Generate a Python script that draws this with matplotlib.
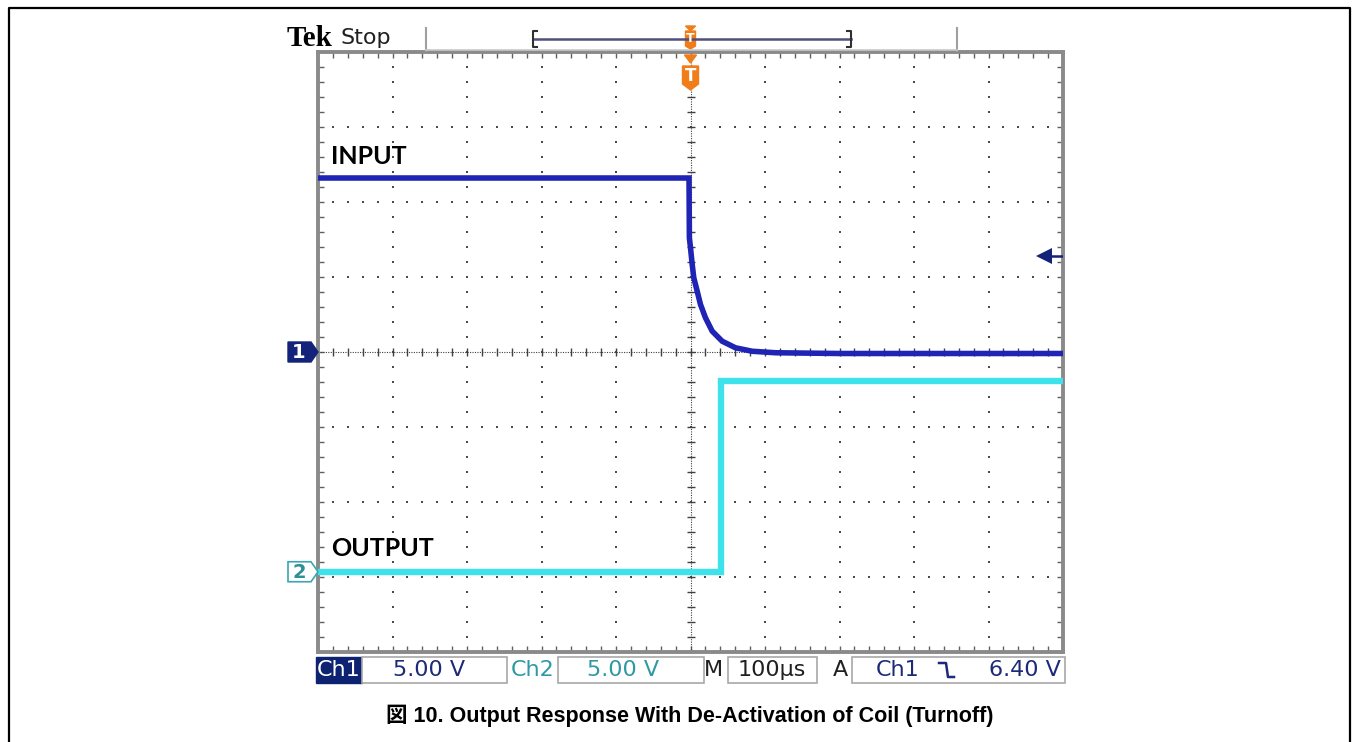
import matplotlib
matplotlib.use("Agg")
import matplotlib.pyplot as plt
import numpy as np
from matplotlib.patches import Rectangle, Polygon

# ---- 示波器读数 (从截图读取) ----
# time in µs (trigger at 0), voltage in V
ch1_time = [-500, -2.0, -1.5, 0.0, 2.3, 4.4, 9.0, 13.4, 20.1, 29.1, 42.5, 60.4, 82.8, 114, 200, 300, 400, 500]
ch1_volt = [11.6, 11.6, 7.6, 6.95, 5.83, 4.95, 4.05, 3.17, 2.28, 1.39, 0.72, 0.28, 0.05, -0.05, -0.1, -0.1, -0.1, -0.1]
ch2_time = [-500, 41.6, 41.6, 500]
ch2_volt = [0.0, 0.0, 12.7, 12.7]

ch1_label = "INPUT"
ch2_label = "OUTPUT"
ch1_scale = 5.00     # V/div
ch2_scale = 5.00     # V/div
ch1_offset = 0.0     # div
ch2_offset = -2.93   # div
time_scale = 100     # µs/div
trig_level = 6.40    # V, Ch1 falling edge
caption = "図 10. Output Response With De-Activation of Coil (Turnoff)"

W, H = 1353, 742
fig = plt.figure(figsize=(W / 100, H / 100), dpi=100)

# 屏幕区域 (像素)
L, R, T, B = 318, 1063, 52, 652
ax = fig.add_axes([L / W, 1 - B / H, (R - L) / W, (B - T) / H])
ax.set_xlim(-5 * time_scale, 5 * time_scale)
ax.set_ylim(-4, 4)
for sp in ax.spines.values():
    sp.set_color("#8a8a8a")
    sp.set_linewidth(2.8)

# graticule
fine_x = np.arange(-25, 26) * time_scale / 5
fine_y = np.arange(-20, 21) / 5

# border ticks every 1/5 div, pointing inward
ax.set_xticks(fine_x)
ax.set_yticks(fine_y)
ax.set_xticklabels([])
ax.set_yticklabels([])
ax.tick_params(direction="in", length=4, width=1, color="#606060", top=True, right=True)

dot = dict(ls="none", marker="s", ms=1.5, color="#4a4a4a", mew=0)
for k in range(-4, 5):
    if k == 0:
        continue
    ax.plot(np.full(len(fine_y), k * time_scale), fine_y, **dot)
for j in range(-3, 4):
    if j == 0:
        continue
    ax.plot(fine_x, np.full(len(fine_x), j), **dot)

# centre cross with ticks
ax.axvline(0, ls=(0, (1, 1.2)), lw=0.8, color="#404040")
ax.axhline(0, ls=(0, (1, 1.2)), lw=0.8, color="#404040")
ax.plot(np.zeros(len(fine_y)), fine_y, ls="none", marker="_", ms=6, mew=1, color="#404040")
ax.plot(fine_x, np.zeros(len(fine_x)), ls="none", marker="|", ms=6, mew=1, color="#404040")

# traces
ch1_div = np.array(ch1_volt) / ch1_scale + ch1_offset
ch2_div = np.array(ch2_volt) / ch2_scale + ch2_offset
ax.plot(ch2_time, ch2_div, color="#3ee2ea", lw=4.6, solid_joinstyle="miter", zorder=5)
ax.plot(ch1_time, ch1_div, color="#1f24b4", lw=4.0, solid_joinstyle="miter", zorder=6)

# trigger level arrow
trig_div = trig_level / ch1_scale + ch1_offset
ax.plot([474], [trig_div], marker="<", ms=12, color="#14237a", mew=0, zorder=7)
ax.plot([478, 500], [trig_div, trig_div], color="#14237a", lw=1.8, zorder=7)

# ---- 像素坐标叠加层 ----
ov = fig.add_axes([0, 0, 1, 1], zorder=3)
ov.set_xlim(0, W)
ov.set_ylim(H, 0)
ov.axis("off")
ov.patch.set_alpha(0)

# outer frame
ov.plot([8.5, 8.5, 1350, 1350], [745, 7.5, 7.5, 745], color="black", lw=1.6, clip_on=False)


def y_of(div):
    return T + (4 - div) * (B - T) / 8


# channel markers
cx = (L + R) / 2
y1 = y_of(ch1_offset)
ov.add_patch(Polygon([(288, y1 - 10), (311, y1 - 10), (318, y1), (311, y1 + 10), (288, y1 + 10)],
                     closed=True, fc="#14237a", ec="#14237a", lw=1))
ov.text(299, y1 + 0.5, "1", color="white", fontsize=14, fontweight="bold", ha="center", va="center",
        family="DejaVu Sans")
y2 = y_of(ch2_offset)
ov.add_patch(Polygon([(288, y2 - 10), (311, y2 - 10), (318, y2), (311, y2 + 10), (288, y2 + 10)],
                     closed=True, fc="white", ec="#3aa6ae", lw=1.2))
ov.text(299, y2 + 0.5, "2", color="#2e8f96", fontsize=14, fontweight="bold", ha="center", va="center",
        family="DejaVu Sans")

# labels
ov.text(331, 156, ch1_label, fontsize=18, fontweight="bold", family="Lato", ha="left", va="center")
ov.text(331, 549, ch2_label, fontsize=18, fontweight="bold", family="Lato", ha="left", va="center")

# header
ov.text(287, 39, "Tek", fontsize=21, fontweight="bold", family="Liberation Serif", ha="left", va="center")
ov.text(340, 38, "Stop", fontsize=16, family="DejaVu Sans", ha="left", va="center", color="#202020")
ov.plot([426, 426], [28, 51], color="#a0a0a0", lw=1.5)
ov.plot([957, 957], [28, 51], color="#a0a0a0", lw=1.5)
ov.plot([426, 957], [50, 50], color="#c8c8c8", lw=1.2)
ov.plot([533, 851], [39, 39], color="#50507a", lw=1.8)
ov.plot([537, 533, 533, 537], [31, 31, 47, 47], color="#303030", lw=1.5)
ov.plot([847, 851, 851, 847], [31, 31, 47, 47], color="#303030", lw=1.5)

# trigger position markers (orange)
orange = "#f07d1a"
ov.add_patch(Polygon([(cx - 5, 26), (cx + 5, 26), (cx, 31)], closed=True, fc=orange, ec=orange))
ov.add_patch(Polygon([(cx - 5, 31), (cx + 5, 31), (cx + 5, 46), (cx, 49), (cx - 5, 46)],
                     closed=True, fc=orange, ec=orange))
ov.text(cx, 39, "T", color="white", fontsize=9, fontweight="bold", ha="center", va="center")
ov.add_patch(Polygon([(cx - 6, 55), (cx + 6, 55), (cx, 63)], closed=True, fc=orange, ec=orange))
ov.add_patch(Polygon([(cx - 8, 66), (cx + 8, 66), (cx + 8, 84), (cx, 90), (cx - 8, 84)],
                     closed=True, fc=orange, ec=orange))
ov.text(cx, 76, "T", color="white", fontsize=12, fontweight="bold", ha="center", va="center")

# status bar
bt, bb = 657, 683
bym = (bt + bb) / 2
sfont = dict(fontsize=16, family="DejaVu Sans", va="center")
ov.add_patch(Rectangle((316, bt), 46, bb - bt, fc="#0d2270", ec="#0d2270"))
ov.text(339, bym, "Ch1", color="white", ha="center", **sfont)
for x0, x1 in [(362, 507), (558, 704), (728, 817), (852, 1065)]:
    ov.add_patch(Rectangle((x0, bt), x1 - x0, bb - bt, fc="white", ec="#a8a8a8", lw=1.2))
ov.text(429, bym, f"{ch1_scale:.2f} V", color="#1c2a78", ha="center", **sfont)
ov.text(533, bym, "Ch2", color="#2e9aa2", ha="center", **sfont)
ov.text(623, bym, f"{ch2_scale:.2f} V", color="#2e9aa2", ha="center", **sfont)
ov.text(713, bym, "M", color="#202020", ha="center", **sfont)
ov.text(772, bym, f"{time_scale}µs", color="#202020", ha="center", **sfont)
ov.text(840, bym, "A", color="#202020", ha="center", **sfont)
ov.text(898, bym, "Ch1", color="#1c2a78", ha="center", **sfont)
ov.plot([939, 946, 948, 954], [663, 663, 677, 677], color="#1c2a78", lw=1.8)
ov.text(1061, bym, f"{trig_level:.2f} V", color="#1c2a78", ha="right", **sfont)

# caption
ov.text(690, 716, caption, fontsize=15.5, fontweight="bold", ha="center", va="center",
        family=["Liberation Sans", "Noto Sans CJK JP"])

fig.savefig("out.png", dpi=100)
plt.close(fig)
